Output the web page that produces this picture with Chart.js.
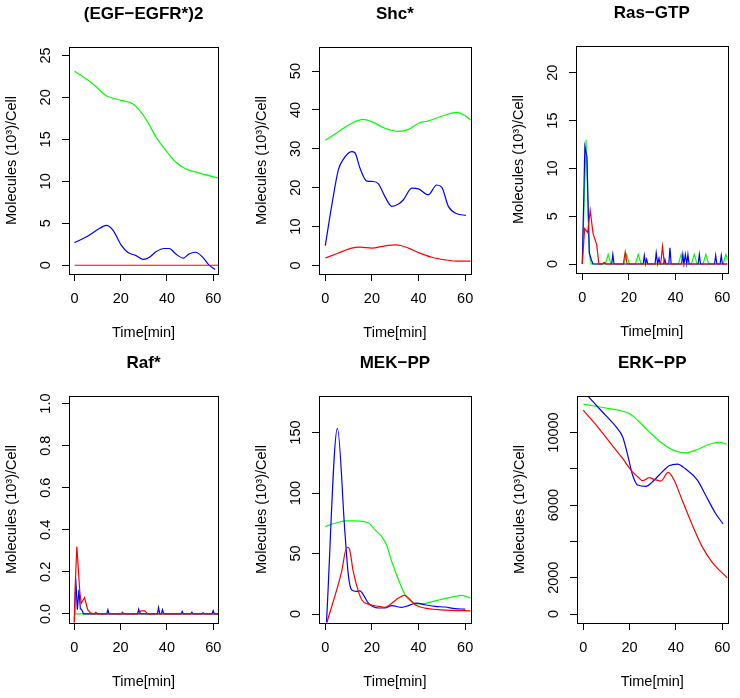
<!DOCTYPE html>
<html><head><meta charset="utf-8">
<script src="https://cdn.jsdelivr.net/npm/chart.js@4.4.1/dist/chart.umd.min.js"></script>
<style>
html,body{margin:0;padding:0;background:#fff;}
body{width:740px;height:698px;position:relative;overflow:hidden;}
canvas{position:absolute;}
</style></head><body>
<canvas id="c1"></canvas><canvas id="c2"></canvas><canvas id="c3"></canvas>
<canvas id="c4"></canvas><canvas id="c5"></canvas><canvas id="c6"></canvas>
<script>
// ---------- shared tick labels ----------
const timeTicks = [0, 20, 40, 60];
const xAxisTitle = 'Time[min]';
const yAxisTitle = 'Molecules (10³)/Cell';

// ---------- (EGF-EGFR*)2 ----------
const egfrYTicks = [0, 5, 10, 15, 20, 25];
const egfrTimeGreen = [0, 4, 8, 13.7, 16.6, 20.2, 25.2, 28, 31.6, 35.2, 39.5, 43.8, 48, 53.8, 62.2];
const egfrGreen = [23.1, 22.4, 21.6, 20.2, 19.9, 19.65, 19.25, 18.5, 17.1, 15.3, 13.7, 12.3, 11.5, 11.0, 10.4];
const egfrTimeBlue = [0, 5.2, 10.9, 13.7, 16.6, 20.2, 23, 26.6, 29.8, 32.4, 35.2, 38.8, 41, 43.8, 47.1, 49.5, 52.4, 55.3, 58.1, 60.8];
const egfrBlue = [2.7, 3.4, 4.4, 4.75, 4.2, 2.4, 1.55, 1.15, 0.7, 0.95, 1.6, 2.0, 2.0, 1.35, 0.85, 1.35, 1.55, 1.0, 0.05, -0.5];
const egfrTimeRed = [0, 62.2];
const egfrRed = [0, 0];

// ---------- Shc* ----------
const shcYTicks = [0, 10, 20, 30, 40, 50];
const shcTimeGreen = [0, 5.6, 11.3, 16.3, 19.9, 25.6, 31.4, 35.7, 40, 44.2, 51.4, 56.4, 60, 62.4];
const shcGreen = [32.2, 34.4, 36.6, 37.6, 37.0, 35.3, 34.5, 35.0, 36.6, 37.2, 38.7, 39.4, 38.5, 37.4];
const shcTimeBlue = [0, 2.7, 5.6, 7.7, 11.3, 12.7, 14.9, 17.8, 20.6, 22.8, 25.6, 28.5, 31.4, 33.5, 37.1, 40, 44.2, 47.8, 50, 52.8, 56.4, 60.3];
const shcBlue = [5.1, 15.2, 24.6, 27.3, 29.3, 29.0, 25, 21.7, 21.6, 21.0, 17.7, 15.2, 15.8, 16.9, 19.9, 19.7, 18.2, 20.7, 20.1, 15.2, 13.3, 12.9];
const shcTimeRed = [0, 5.6, 11.3, 14.9, 19.9, 25.6, 30.6, 35.7, 40, 45.7, 51.4, 57.1, 62.4];
const shcRed = [1.9, 3.2, 4.45, 4.7, 4.45, 5.05, 5.3, 4.45, 3.3, 2.1, 1.45, 1.1, 1.1];

// ---------- Ras-GTP ----------
const rasYTicks = [0, 5, 10, 15, 20];
const rasTimeGreen = [0, 1.6, 3.0, 3.8, 9.9, 11.1, 12.3, 17.8, 19.0, 20.2, 22.8, 24.0, 25.2, 41.2, 42.4, 43.6, 46.8, 48.0, 49.2, 51.8, 53.0, 54.2, 60.4, 61.6, 62.3];
const rasGreen = [0, 13.0, 1.1, 0, 0, 1.0, 0, 0, 1.0, 0, 0, 1.0, 0, 0, 1.0, 0, 0, 1.0, 0, 0, 1.0, 0, 0, 1.0, 0.4];
const rasTimeBlue = [0, 1.1, 2.0, 3.0, 3.8, 4.6, 8.8, 9.4, 10.0, 12.6, 13.1, 13.6, 26.1, 26.6, 27.1, 27.6, 28.1, 31.2, 31.7, 32.3, 32.9, 33.4, 34.9, 35.4, 35.9, 37.1, 37.6, 38.1, 42.6, 43.1, 43.6, 44.2, 44.8, 45.3, 45.8, 49.7, 50.2, 50.7, 56.7, 57.2, 57.7, 59.1, 59.6, 60.1, 62.3];
const rasBlue = [0, 12.3, 11.2, 1.2, 0.5, 0, 0, 0.15, 0, 0, 1.0, 0, 0, 0.9, 0, 0.5, 0, 0, 1.15, 0, 0.6, 0, 0, 0.5, 0, 0, 1.7, 0, 0, 1.0, 0, 1.0, 0, 1.0, 0, 0, 1.0, 0, 0, 0.9, 0, 0, 0.9, 0, 0];
const rasTimeRed = [0, 0.3, 1.0, 2.3, 3.4, 4.6, 6.2, 7.1, 8.8, 9.5, 10.2, 17.6, 18.4, 19.2, 33.6, 34.4, 35.2, 62.3];
const rasRed = [0, 0, 3.7, 3.3, 5.6, 3.2, 2.0, 0, 0, 0.15, 0, 0, 1.25, 0, 0, 1.85, 0, 0];

// ---------- Raf* ----------
const rafYTicks = [0, 0.2, 0.4, 0.6, 0.8, 1.0];
const rafTimeGreen = [0, 62.2];
const rafGreen = [0, 0];
const rafTimeBlue = [0, 0.6, 1.3, 2.0, 2.6, 3.2, 4.0, 14.0, 14.5, 15.0, 27.3, 27.8, 28.3, 35.9, 36.4, 36.9, 37.6, 38.1, 38.6, 46.1, 46.6, 47.1, 50.3, 50.8, 51.3, 55.1, 55.6, 56.1, 59.5, 60.0, 60.5, 62.2];
const rafBlue = [-0.04, 0.17, 0.02, 0.115, 0.025, 0.02, 0, 0, 0.02, 0, 0, 0.022, 0, 0, 0.03, 0, 0, 0.02, 0, 0, 0.012, 0, 0, 0.008, 0, 0, 0.005, 0, 0, 0.016, 0, 0];
const rafTimeRed = [0, 0.5, 1.1, 2.4, 3.0, 4.4, 5.8, 7.0, 8.5, 9.3, 10.2, 20.2, 20.8, 21.5, 28.0, 28.8, 30.5, 31.7, 62.2];
const rafRed = [-0.04, 0.17, 0.32, 0.1, 0.05, 0.078, 0.02, 0.005, 0, 0.008, 0, 0, 0.008, 0, 0, 0.015, 0.015, 0, 0];

// ---------- MEK-PP ----------
const mekYTicks = [0, 50, 100, 150];
const mekTimeGreen = [0, 4.2, 8.4, 12.7, 18.8, 21.3, 24.2, 26.3, 28.5, 31.4, 34.2, 37.1, 39.2, 42.8, 48.5, 54.3, 58.6, 62.4];
const mekGreen = [72.3, 75, 77, 77, 75, 69.5, 64, 57, 43.4, 28.3, 16, 9.9, 8.2, 8.8, 11.5, 14, 15.4, 13.2];
const mekTimeBlue = [0.5, 5.2, 8.4, 9.9, 11.3, 13.5, 14.9, 16.3, 18.5, 22.8, 25.6, 28.5, 32.8, 35.7, 39.2, 42.8, 47.1, 51.4, 55.7, 60];
const mekBlue = [-7, 153.5, 68, 32, 20, 18.7, 19.2, 16, 9, 5, 5, 7, 5.5, 7, 9, 7.7, 6.3, 5.8, 4.4, 4.1];
const mekTimeRed = [0.7, 7, 9.2, 10.2, 12, 14.2, 15.9, 18.5, 22.8, 25.6, 28.5, 31.4, 33.9, 35.7, 38.5, 42.8, 48.5, 54.3, 62.4];
const mekRed = [-7, 35, 55.2, 54.4, 35, 18.7, 11, 8.2, 6.3, 5.5, 9, 13.2, 15.4, 13.2, 7.7, 4.9, 3.6, 3.0, 2.7];

// ---------- ERK-PP ----------
const erkYTicks = [0, 2000, 4000, 6000, 8000, 10000];
const erkYTickLabels = ['0', '2000', '', '6000', '', '10000'];
const erkTimeGreen = [0, 5.6, 11.3, 17, 19.9, 23.5, 28.5, 34.2, 40, 44.2, 48.5, 54.3, 58.6, 62.3];
const erkGreen = [11557, 11447, 11319, 11172, 11044, 10678, 10037, 9396, 8974, 8883, 9029, 9341, 9451, 9359];
const erkTimeBlue = [0, 2, 5.6, 9.9, 14.2, 17, 19.2, 21.3, 23.5, 27.1, 29.9, 32.8, 37.1, 40.7, 44.2, 49.3, 52.8, 57.1, 60.4];
const erkBlue = [12350, 12015, 11500, 10915, 10311, 9762, 8755, 7656, 7106, 7033, 7289, 7656, 8168, 8260, 7985, 7381, 6557, 5549, 4963];
const erkTimeRed = [0, 5.6, 11.3, 17, 20.6, 23.5, 25.6, 28.5, 30.6, 33.5, 36.7, 39.2, 42.8, 47.1, 51.4, 55.7, 62.3];
const erkRed = [11227, 10403, 9487, 8571, 7930, 7564, 7344, 7509, 7418, 7326, 7802, 7381, 6250, 4900, 3700, 2850, 1978];

// ---------- rendering ----------
const FAMILY = "'Liberation Sans', Arial, Helvetica, sans-serif";
const FS = 14.5;
Chart.defaults.font.family = FAMILY;
Chart.defaults.color = '#000';

const COL = { green: '#00FF00', blue: '#0000FF', red: '#FF0000' };
const TICK_LEN = 7;

const boxPlugin = {
  id: 'rbox',
  afterDatasetsDraw(chart) {
    const a = chart.chartArea, ctx = chart.ctx;
    ctx.save();
    ctx.strokeStyle = '#000';
    ctx.lineWidth = 1;
    const l = Math.round(a.left) + 0.5, t = Math.round(a.top) + 0.5;
    const r = Math.round(a.right) + 0.5, b = Math.round(a.bottom) + 0.5;
    ctx.strokeRect(l, t, r - l, b - t);
    ctx.restore();
  }
};

const measureCtx = document.createElement('canvas').getContext('2d');
measureCtx.font = FS + 'px ' + FAMILY;

function pts(ts, vs) { return ts.map((t, i) => ({ x: t, y: vs[i] })); }

function makePanel(p) {
  const [bl, bt, br, bb] = p.box;
  const cv = document.getElementById(p.id);
  const W = br - bl + 69 + 12, H = bb - bt + 47 + 72;
  cv.width = W; cv.height = H;
  cv.style.left = (bl - 69) + 'px';
  cv.style.top = (bt - 47) + 'px';
  const labels = p.yLabels || p.yTicks.map(v => p.fmt ? p.fmt(v) : String(v));
  const widest = Math.max(...labels.map(s => measureCtx.measureText(s).width));
  const yPad = 23 - TICK_LEN - widest / 2;
  const mk = (ts, vs, c) => ({
    data: pts(ts, vs), borderColor: c, borderWidth: 1.2, pointRadius: 0, fill: false,
    tension: 0, cubicInterpolationMode: p.smooth ? 'monotone' : 'default'
  });
  new Chart(cv, {
    type: 'line',
    data: { datasets: [
      mk(p.tr, p.r, COL.red), mk(p.tb, p.b, COL.blue), mk(p.tg, p.g, COL.green)
    ] },
    options: {
      responsive: false, animation: false, devicePixelRatio: 1,
      layout: { padding: { left: 0, right: 12, top: 0, bottom: 0 } },
      plugins: {
        legend: { display: false }, tooltip: { enabled: false },
        title: { display: true, text: p.title, fullSize: false, color: '#000',
          font: { size: 17, weight: 'bold' }, padding: { top: 3.8, bottom: 22.8 } }
      },
      scales: {
        x: {
          type: 'linear', min: p.xr[0], max: p.xr[1],
          afterBuildTicks: s => { s.ticks = timeTicks.map(v => ({ value: v })); },
          afterFit: s => { s.height = 72; },
          grid: { drawOnChartArea: false, drawTicks: true, tickLength: TICK_LEN, tickColor: '#000', tickWidth: 1 },
          border: { display: false },
          ticks: { autoSkip: false, maxRotation: 0, minRotation: 0, padding: 9.3, color: '#000', font: { size: FS } },
          title: { display: true, text: xAxisTitle, color: '#000', font: { size: FS }, padding: { top: 0, bottom: 4.3 } }
        },
        y: {
          type: 'linear', min: p.yr[0], max: p.yr[1],
          afterBuildTicks: s => { s.ticks = p.yTicks.map(v => ({ value: v })); },
          afterFit: s => { s.width = 69; },
          grid: { drawOnChartArea: false, drawTicks: true, tickLength: TICK_LEN, tickColor: '#000', tickWidth: 1 },
          border: { display: false },
          ticks: { autoSkip: false, minRotation: 90, maxRotation: 90, crossAlign: 'center', padding: yPad,
            color: '#000', font: { size: FS }, callback: (v, i) => labels[i] },
          title: { display: true, text: yAxisTitle, color: '#000', font: { size: FS }, padding: { top: 3.3, bottom: 0 } }
        }
      }
    },
    plugins: [boxPlugin]
  });
}

const fmt1 = v => v.toFixed(1);
const panels = [
  { id: 'c1', box: [69, 47, 219, 274], title: '(EGF−EGFR*)2', xr: [-2.4, 62.15], yr: [-1.04, 26.0], yTicks: egfrYTicks, smooth: true,
    tg: egfrTimeGreen, g: egfrGreen, tb: egfrTimeBlue, b: egfrBlue, tr: egfrTimeRed, r: egfrRed },
  { id: 'c2', box: [319, 47, 471, 274], title: 'Shc*', xr: [-2.7, 62.4], yr: [-2.2, 56.2], yTicks: shcYTicks, smooth: true,
    tg: shcTimeGreen, g: shcGreen, tb: shcTimeBlue, b: shcBlue, tr: shcTimeRed, r: shcRed },
  { id: 'c3', box: [576, 46, 728, 273], title: 'Ras−GTP', xr: [-2.7, 62.3], yr: [-0.94, 22.8], yTicks: rasYTicks, smooth: false,
    tg: rasTimeGreen, g: rasGreen, tb: rasTimeBlue, b: rasBlue, tr: rasTimeRed, r: rasRed },
  { id: 'c4', box: [69, 396, 219, 623], title: 'Raf*', xr: [-2.3, 62.15], yr: [-0.043, 1.036], yTicks: rafYTicks, fmt: fmt1, smooth: false,
    tg: rafTimeGreen, g: rafGreen, tb: rafTimeBlue, b: rafBlue, tr: rafTimeRed, r: rafRed },
  { id: 'c5', box: [319, 396, 471, 623], title: 'MEK−PP', xr: [-2.7, 62.4], yr: [-7.4, 180.2], yTicks: mekYTicks, smooth: true,
    tg: mekTimeGreen, g: mekGreen, tb: mekTimeBlue, b: mekBlue, tr: mekTimeRed, r: mekRed },
  { id: 'c6', box: [577, 396, 728, 623], title: 'ERK−PP', xr: [-2.7, 62.3], yr: [-495, 12011], yTicks: erkYTicks, yLabels: erkYTickLabels, smooth: true,
    tg: erkTimeGreen, g: erkGreen, tb: erkTimeBlue, b: erkBlue, tr: erkTimeRed, r: erkRed }
];
panels.forEach(makePanel);
</script>
</body></html>
